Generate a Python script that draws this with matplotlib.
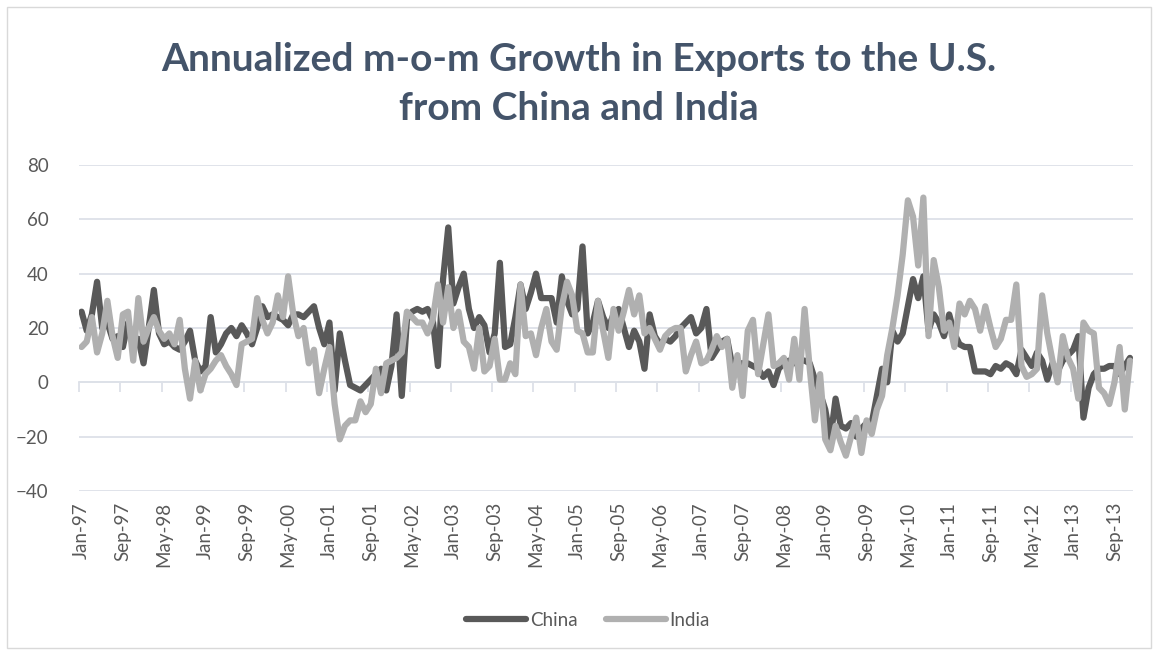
import numpy as np
import pandas as pd
import matplotlib
matplotlib.use("Agg")
import matplotlib.pyplot as plt
from matplotlib.patches import Rectangle

# monthly series, Jan-97 .. Dec-13
start_month = "1997-01"
china = [26, 19, 25, 37, 20, 22, 16, 17, 13, 22, 15, 16,
         7, 20, 34, 18, 14, 15, 13, 12, 15, 19, 8, 4,
         6, 24, 11, 14, 18, 20, 17, 21, 18, 14, 20, 28,
         24, 25, 24, 23, 21, 25, 25, 24, 26, 28, 20, 14,
         22, -3, 18, 8, -1, -2, -3, -1, 1, 3, 5, -3,
         6, 25, -5, 23, 26, 27, 26, 27, 23, 6, 38, 57,
         29, 35, 40, 27, 20, 24, 21, 11, 18, 44, 13, 14,
         24, 36, 27, 33, 40, 31, 31, 31, 22, 39, 30, 25,
         27, 50, 18, 22, 30, 24, 20, 25, 27, 20, 13, 19,
         15, 5, 25, 17, 14, 16, 15, 17, 20, 22, 24, 18,
         20, 27, 9, 12, 15, 16, 6, 7, 7, 7, 6, 5,
         2, 4, -1, 5, 7, 8, 7, 8, 8, 7, 1, -4,
         -10, -21, -6, -16, -17, -15, -20, -17, -15, -15, -5, 5,
         0, 19, 15, 18, 28, 38, 31, 39, 19, 25, 22, 17,
         25, 18, 14, 13, 13, 4, 4, 4, 3, 6, 5, 7,
         6, 3, 12, 9, 6, 11, 8, 1, 7, 4, 8, 10,
         12, 17, -13, -2, 3, 5, 5, 6, 6, 3, 6, 9]
india = [13, 15, 24, 11, 18, 30, 17, 9, 25, 26, 8, 31,
         15, 20, 24, 19, 16, 18, 14, 23, 5, -6, 8, -3,
         3, 5, 8, 10, 6, 3, -1, 14, 15, 16, 31, 23,
         18, 22, 32, 24, 39, 25, 17, 20, 7, 12, -4, 5,
         13, -8, -21, -16, -14, -14, -7, -11, -8, 5, -4, 7,
         8, 9, 11, 26, 24, 22, 22, 18, 23, 36, 22, 35,
         20, 26, 15, 13, 5, 20, 4, 6, 16, 1, 1, 7,
         3, 36, 17, 18, 10, 20, 27, 15, 12, 28, 37, 32,
         19, 18, 11, 11, 30, 19, 9, 27, 19, 26, 34, 25,
         32, 18, 20, 16, 12, 17, 19, 20, 20, 4, 10, 15,
         7, 8, 12, 17, 13, 16, -2, 10, -5, 19, 23, 3,
         14, 25, 6, 7, 9, 1, 16, 1, 27, 5, -14, 3,
         -21, -25, -16, -22, -27, -20, -13, -26, -14, -19, -10, -5,
         10, 20, 32, 47, 67, 61, 43, 68, 17, 45, 35, 19,
         22, 13, 29, 25, 30, 27, 19, 28, 20, 13, 16, 23,
         23, 36, 6, 2, 3, 5, 32, 18, 8, 0, 17, 9,
         5, -6, 22, 19, 18, -2, -4, -8, 0, 13, -10, 8]
y_ticks = [-40, -20, 0, 20, 40, 60, 80]
label_step = 8

months = pd.date_range(start_month, periods=len(china), freq="MS")
x = np.arange(len(months))

txt = "#595959"
grid_c = "#DDE1E8"
plt.rcParams['font.family'] = ['Lato', 'DejaVu Sans']

fig = plt.figure(figsize=(11.58, 6.55), dpi=100)
fig.patches.append(Rectangle((0.006, 0.011), 0.988, 0.978, transform=fig.transFigure,
                             fill=False, edgecolor="#D9D9D9", linewidth=1))
ax = fig.add_axes([0.0682, 0.2504, 0.9098, 0.4977])

ax.plot(x, china, color="#595959", linewidth=4.5, solid_joinstyle="round",
        solid_capstyle="round", label="China", zorder=3)
ax.plot(x, india, color="#B0B0B0", linewidth=4.5, solid_joinstyle="round",
        solid_capstyle="round", label="India", zorder=4)

ax.set_xlim(-0.5, len(x) - 0.5)
ax.set_ylim(y_ticks[0], y_ticks[-1])
ax.set_yticks(y_ticks)
ax.yaxis.grid(True, color=grid_c, linewidth=1.3)
ax.set_axisbelow(True)
for s in ax.spines.values():
    s.set_visible(False)
ax.tick_params(axis="y", length=0, labelsize=13.5, labelcolor=txt, pad=22)

pos = x[::label_step]
ax.set_xticks(pos)
ax.set_xticklabels([m.strftime("%b-%y") for m in months[::label_step]],
                   rotation=90, fontsize=13.5, color=txt)
ax.tick_params(axis="x", length=0, pad=8)

# category axis crosses at zero, tick marks between categories
sec = ax.secondary_xaxis(-y_ticks[0] / (y_ticks[-1] - y_ticks[0]))
sec.set_xticks(pos - 0.5)
sec.set_xticklabels([])
sec.tick_params(axis="x", length=7, color=grid_c, width=1.3)
sec.spines["bottom"].set_color(grid_c)
sec.spines["bottom"].set_linewidth(1.3)

fig.text(0.5, 0.872, "Annualized m-o-m Growth in Exports to the U.S.\nfrom China and India",
         ha="center", va="center", fontsize=28, fontweight="bold",
         color="#44546A", linespacing=1.5)

fig.legend(loc="center", bbox_to_anchor=(0.508, 0.053), ncol=2, frameon=False,
           fontsize=13.5, labelcolor=txt, handlelength=3.2, handletextpad=0.2,
           columnspacing=1.5)

fig.savefig("out.png", dpi=100)
